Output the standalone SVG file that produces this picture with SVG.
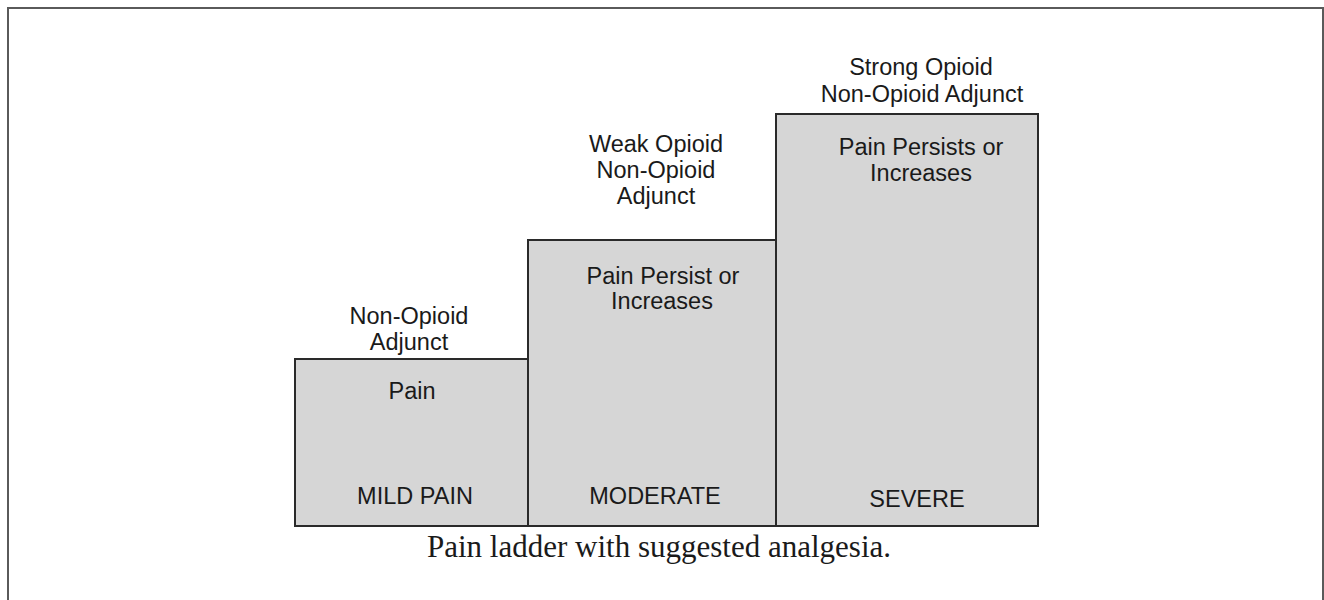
<svg xmlns="http://www.w3.org/2000/svg" width="1324" height="600" viewBox="0 0 1324 600">
<style>
.frame{fill:#fff;stroke:#5a5a5a;stroke-width:2}
.step{fill:#d6d6d6;stroke:#2a2a2a;stroke-width:2}
.t{font-family:"Liberation Sans",Arial,sans-serif;font-size:23.5px;fill:#1a1a1a;text-anchor:middle}
.cap{font-family:"Liberation Serif","Times New Roman",serif;font-size:31px;fill:#1a1a1a;text-anchor:middle}
</style>
<rect class="frame" x="8" y="8" width="1315" height="620"/>
<g id="mild">
<rect class="step" x="295" y="359" width="233" height="167"/>
<text class="t" x="409" y="324">Non-Opioid</text>
<text class="t" x="409" y="350">Adjunct</text>
<text class="t" x="412" y="399">Pain</text>
<text class="t" x="415" y="504">MILD PAIN</text>
</g>
<g id="moderate">
<rect class="step" x="528" y="240" width="248" height="286"/>
<text class="t" x="656" y="152">Weak Opioid</text>
<text class="t" x="656" y="178">Non-Opioid</text>
<text class="t" x="656" y="204">Adjunct</text>
<text class="t" x="663" y="284">Pain Persist or</text>
<text class="t" x="662" y="309">Increases</text>
<text class="t" x="655" y="504">MODERATE</text>
</g>
<g id="severe">
<rect class="step" x="776" y="114" width="262" height="412"/>
<text class="t" x="921" y="75">Strong Opioid</text>
<text class="t" x="922" y="102">Non-Opioid Adjunct</text>
<text class="t" x="921" y="155">Pain Persists or</text>
<text class="t" x="921" y="181">Increases</text>
<text class="t" x="917" y="507">SEVERE</text>
</g>
<g id="connectors"/>
<text class="cap" x="659" y="557">Pain ladder with suggested analgesia.</text>
</svg>
